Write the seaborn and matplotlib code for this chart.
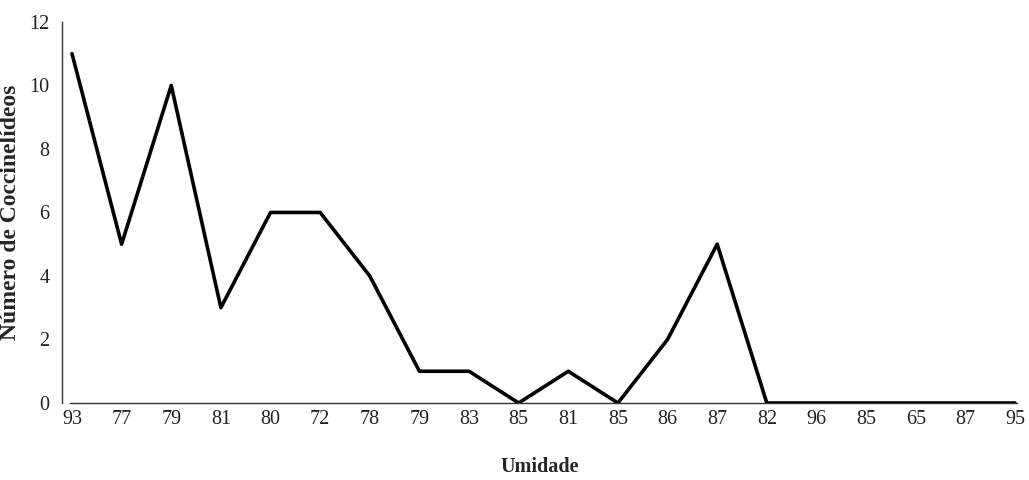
import numpy as np
import pandas as pd
import matplotlib
matplotlib.use("Agg")
import matplotlib.pyplot as plt
import seaborn as sns

# umidade (%) per sample and number of coccinellids
umidade = ["93", "77", "79", "81", "80", "72", "78", "79", "83", "85",
           "81", "85", "86", "87", "82", "96", "85", "65", "87", "95"]
coccinelideos = [11, 5, 10, 3, 6, 6, 4, 1, 1, 0, 1, 0, 2, 5, 0, 0, 0, 0, 0, 0]

df = pd.DataFrame({"pos": np.arange(len(umidade)), "n": coccinelideos})

sns.set_style("white")
plt.rcParams["font.family"] = ["Liberation Serif", "DejaVu Serif"]

fig = plt.figure(figsize=(10.29, 4.8), dpi=100)
ax = fig.add_axes([0.0603, 0.1604, 0.928, 0.794])

sns.lineplot(data=df, x="pos", y="n", ax=ax, color="black", linewidth=2.6)

ax.set_xlim(-0.2, 19.04)
ax.set_ylim(0, 12)
ax.set_yticks(range(0, 13, 2))
ax.set_xticks(df["pos"])
ax.set_xticklabels(umidade)
ax.tick_params(axis="both", length=0, labelsize=14.5, colors="#222222")
ax.tick_params(axis="x", pad=5)
ax.tick_params(axis="y", pad=9)

for s in ["top", "right"]:
    ax.spines[s].set_visible(False)
ax.spines["left"].set_color("#333333")
ax.spines["left"].set_linewidth(1.0)
ax.spines["bottom"].set_color("#333333")
ax.spines["bottom"].set_linewidth(1.0)
ax.spines["bottom"].set_bounds(-0.04, 19.04)

ax.set_xlabel("Umidade", fontsize=14.5, fontweight="bold", labelpad=20)
ax.set_ylabel("Número de Coccinelídeos", fontsize=17, fontweight="bold", labelpad=6)

fig.savefig("out.png", dpi=100)
